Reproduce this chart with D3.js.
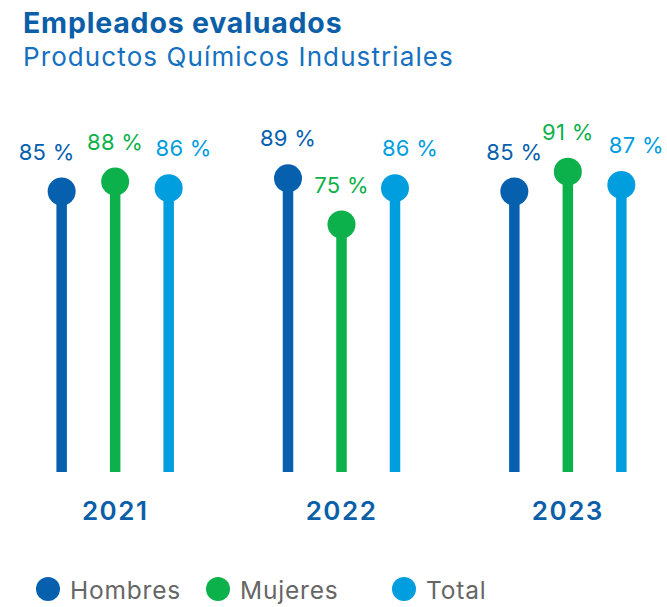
<!DOCTYPE html>
<html lang="es">
<head>
<meta charset="utf-8">
<title>Empleados evaluados</title>
<script src="https://cdn.jsdelivr.net/npm/d3@7/dist/d3.min.js"></script>
<style>
  html, body { margin: 0; padding: 0; background: #ffffff; }
  svg { display: block; font-family: Inter, "Noto Sans", sans-serif; }
</style>
</head>
<body>
<svg id="chart" width="667" height="607"></svg>
<script>
// Porcentaje de empleados evaluados por año y grupo
const years = ["2021", "2022", "2023"];
const series = ["Hombres", "Mujeres", "Total"];
const hombres = [85, 89, 85];
const mujeres = [88, 75, 91];
const total = [86, 86, 87];

const colors = { Hombres: "#0660ae", Mujeres: "#0db14b", Total: "#009ddf" };
const valuesBySeries = { Hombres: hombres, Mujeres: mujeres, Total: total };

const rows = [];
years.forEach((year, i) => {
  series.forEach(s => rows.push({ year, series: s, value: valuesBySeries[s][i] }));
});

const svg = d3.select("#chart");

// Títulos
svg.append("text")
  .attr("x", 23).attr("y", 33)
  .attr("fill", "#0b5ea8")
  .attr("font-size", 28.5).attr("font-weight", 700)
  .attr("letter-spacing", 0.8)
  .text("Empleados evaluados");
svg.append("text")
  .attr("x", 23).attr("y", 66)
  .attr("fill", "#1470c0")
  .attr("font-size", 26).attr("font-weight", 400)
  .attr("letter-spacing", 1.1)
  .text("Productos Químicos Industriales");

// Escalas
const x = d3.scaleBand().domain(years).range([2, 681]).padding(0);
const xs = d3.scalePoint().domain(series)
  .range([x.bandwidth() / 2 - 53.5, x.bandwidth() / 2 + 53.5]);
const y = d3.scaleLinear().domain([0, 100]).range([472, 142]);

const cx = d => x(d.year) + xs(d.series);

// Desplazamiento horizontal de algunas etiquetas para evitar solapes
const labelDx = d => {
  if (d.series === "Total") return 15;
  if (d.series === "Hombres" && d.year === "2021") return -15;
  return 0;
};

const g = svg.append("g");

const pops = g.selectAll("g.pop").data(rows).join("g").attr("class", "pop");

pops.append("line")
  .attr("x1", cx).attr("x2", cx)
  .attr("y1", y(0)).attr("y2", d => y(d.value))
  .attr("stroke", d => colors[d.series])
  .attr("stroke-width", 10.5);

pops.append("circle")
  .attr("cx", cx).attr("cy", d => y(d.value))
  .attr("r", 14)
  .attr("fill", d => colors[d.series]);

pops.append("text")
  .attr("x", d => cx(d) + labelDx(d))
  .attr("y", d => y(d.value) - 32)
  .attr("text-anchor", "middle")
  .attr("fill", d => colors[d.series])
  .attr("font-size", 22)
  .attr("letter-spacing", 0.3)
  .text(d => `${d.value} %`);

// Eje de años
const xAxis = svg.append("g")
  .attr("transform", "translate(0,520)")
  .call(d3.axisBottom(x).tickSize(0).tickPadding(0));
xAxis.select(".domain").remove();
xAxis.selectAll("text")
  .attr("dy", 0)
  .attr("fill", "#0b5ea8")
  .attr("font-size", 26)
  .attr("font-weight", 600)
  .attr("letter-spacing", 1.5)
  .attr("font-family", "Inter, sans-serif");

// Leyenda
const legendX = [48, 218, 404];
const legend = svg.append("g").selectAll("g").data(series).join("g")
  .attr("transform", (d, i) => `translate(${legendX[i]},589)`);
legend.append("circle").attr("r", 12).attr("fill", d => colors[d]);
legend.append("text")
  .attr("x", 22).attr("y", 10)
  .attr("fill", "#666666")
  .attr("font-size", 24.5)
  .attr("letter-spacing", 0.8)
  .text(d => d);
</script>
</body>
</html>
